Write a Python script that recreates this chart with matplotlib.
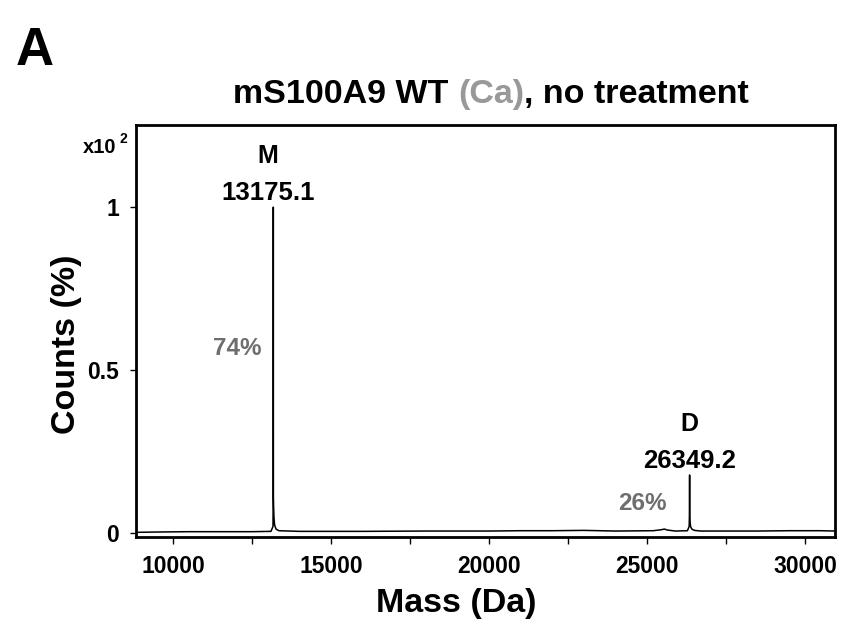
import matplotlib
matplotlib.use("Agg")
import matplotlib.pyplot as plt
from matplotlib.ticker import MultipleLocator, FuncFormatter

# spectrum trace (mass in Da, counts in x10^2 %)
mass = [8850, 9500, 10500, 11500, 12500, 13100, 13165, 13172, 13175, 13178, 13185, 13195,
        13215, 13260, 13350, 14000, 16000, 18000, 20000, 21000, 22000, 23000, 24000, 25200,
        25450, 25550, 25650, 25900, 26280, 26335, 26345, 26349, 26353, 26362, 26380, 26420,
        26500, 26700, 27500, 28500, 29500, 30500, 30950]
counts = [0.002, 0.003, 0.004, 0.004, 0.004, 0.005, 0.02, 0.11, 1.0, 0.11, 0.08, 0.05,
          0.025, 0.012, 0.007, 0.005, 0.005, 0.006, 0.006, 0.007, 0.007, 0.008, 0.006, 0.007,
          0.010, 0.012, 0.009, 0.006, 0.007, 0.02, 0.06, 0.178, 0.055, 0.035, 0.02, 0.012,
          0.008, 0.006, 0.006, 0.006, 0.007, 0.007, 0.006]

peak_names = ["M", "D"]
peak_mass = [13175.1, 26349.2]
peak_height = [1.0, 0.178]
peak_dx = [-4, 0]
peak_share = ["74%", "26%"]
share_pos = [(12020, 0.567), (24870, 0.092)]

yticks = [0, 0.5, 1]
ytick_labels = ["0", "0.5", "1"]

arial = ["Liberation Sans", "DejaVu Sans"]

W, H = 842, 620
fig = plt.figure(figsize=(W / 100, H / 100), dpi=100)
ax = fig.add_axes([136 / W, 1 - 537 / H, 699 / W, 412 / H])

ax.plot(mass, counts, color="black", lw=1.1)
ax.set_xlim(8830, 30950)
ax.set_ylim(-0.0123, 1.252)

ax.xaxis.set_major_locator(MultipleLocator(2500))
ax.xaxis.set_major_formatter(FuncFormatter(lambda v, p: f"{v:.0f}" if v % 5000 == 0 else ""))
ax.tick_params(axis="x", length=5, width=1, direction="out", pad=8, labelsize=16.5)
ax.set_yticks(yticks)
ax.set_yticklabels(ytick_labels)
ax.tick_params(axis="y", length=4, width=1, direction="out", pad=8, labelsize=16.5)
for lab in ax.get_xticklabels() + ax.get_yticklabels():
    lab.set_fontfamily(arial)
    lab.set_fontweight("bold")
for s in ax.spines.values():
    s.set_linewidth(2)

fig.text(456 / W, 1 - 612 / H, "Mass (Da)", fontfamily=arial, fontweight="bold",
         fontsize=24.5, ha="center", va="baseline")
fig.text(66 / W, 1 - 344 / H, "Counts (%)", fontfamily=arial, fontweight="bold",
         fontsize=24.5, ha="center", va="center", rotation=90)

fig.text(83 / W, 1 - 153 / H, "x10", fontfamily=arial, fontweight="bold", fontsize=14.5,
         va="baseline")
fig.text(119 / W, 1 - 143 / H, "2", fontfamily=arial, fontweight="bold", fontsize=10,
         va="baseline")

for name, m, h, dx in zip(peak_names, peak_mass, peak_height, peak_dx):
    ax.annotate(name, (m, h), xytext=(dx, 32), textcoords="offset points", ha="center",
                va="baseline", fontfamily=arial, fontweight="bold", fontsize=18)
    ax.annotate(f"{m:.1f}", (m, h), xytext=(dx, 5), textcoords="offset points", ha="center",
                va="baseline", fontfamily=arial, fontweight="bold", fontsize=18.5)
for share, (sx, sy) in zip(peak_share, share_pos):
    ax.text(sx, sy, share, color="#6e6e6e", ha="center", va="center",
            fontfamily=arial, fontweight="bold", fontsize=17.5)

fig.text(35 / W, 1 - 65 / H, "A", fontfamily=arial, fontweight="bold", fontsize=38,
         ha="center", va="baseline")

# title in three colours
r = fig.canvas.get_renderer()
parts = [("mS100A9 WT ", "black"), ("(Ca)", "#999999"), (", no treatment", "black")]
texts = []
x = 0
for s, c in parts:
    t = fig.text(x, 1 - 103 / H, s, color=c, fontfamily=arial, fontweight="bold",
                 fontsize=24.5, va="baseline")
    x += t.get_window_extent(r).width / W
    texts.append(t)
x0 = 491 / W - x / 2
for t in texts:
    t.set_x(t.get_position()[0] + x0)

fig.savefig("out.png", dpi=100)
